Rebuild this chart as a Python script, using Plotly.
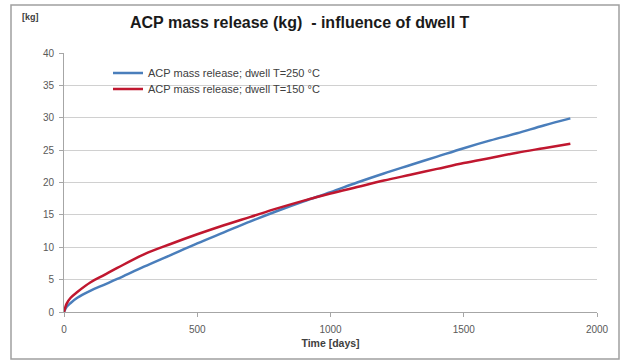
import plotly.graph_objects as go

days = [0, 10, 25, 50, 100, 150, 200, 300, 400, 500, 600, 700, 800, 900, 1000,
        1100, 1200, 1300, 1400, 1500, 1600, 1700, 1800, 1900]
release_250 = [0, 0.8, 1.4, 2.2, 3.3, 4.2, 5.1, 7.0, 8.8, 10.6, 12.3, 14.0, 15.6, 17.1, 18.5,
               20.0, 21.4, 22.7, 24.0, 25.3, 26.5, 27.6, 28.8, 29.9]
release_150 = [0, 1.3, 2.2, 3.1, 4.6, 5.7, 6.8, 8.9, 10.5, 12.0, 13.4, 14.7, 16.0, 17.2, 18.3,
               19.3, 20.3, 21.2, 22.1, 23.0, 23.8, 24.6, 25.3, 26.0]
name_250 = "ACP mass release; dwell T=250 °C"
name_150 = "ACP mass release; dwell T=150 °C"
x_ticks = [0, 500, 1000, 1500, 2000]
y_ticks = [0, 5, 10, 15, 20, 25, 30, 35, 40]

W, H = 622, 362
L, R, T, B = 64, 25, 53, 50
pw, ph = W - L - R, H - T - B

def px(x):
    return (x - L) / pw

def py(y):
    return (H - B - y) / ph

fig = go.Figure()
fig.add_trace(go.Scatter(x=days, y=release_250, mode="lines", name=name_250, legend="legend",
                         line=dict(color="#4A7EBB", width=2.5, shape="spline")))
fig.add_trace(go.Scatter(x=days, y=release_150, mode="lines", name=name_150, legend="legend2",
                         line=dict(color="#C0172F", width=2.5, shape="spline")))

font = "Liberation Sans"
leg_font = dict(size=11, color="#404040", family=font)
fig.update_layout(
    width=W, height=H,
    margin=dict(l=L, r=R, t=T, b=B),
    paper_bgcolor="white", plot_bgcolor="white",
    font=dict(family=font, size=10, color="#595959"),
    showlegend=True,
    legend=dict(x=px(108), y=py(73), xanchor="left", yanchor="middle",
                bgcolor="rgba(0,0,0,0)", font=leg_font),
    legend2=dict(x=px(108), y=py(89), xanchor="left", yanchor="middle",
                 bgcolor="rgba(0,0,0,0)", font=leg_font),
    xaxis=dict(range=[0, 2000], tickvals=x_ticks, showgrid=False, zeroline=False,
               showline=True, linecolor="#A6A6A6", linewidth=1,
               ticks="outside", ticklen=4, tickcolor="#A6A6A6", ticklabelstandoff=4,
               title=dict(text="<b>Time [days]</b>", font=dict(size=10.5, color="#404040"), standoff=5)),
    yaxis=dict(range=[0, 40], tickvals=y_ticks, showgrid=True, gridcolor="#D0D0D0",
               zeroline=False, showline=True, linecolor="#A6A6A6", linewidth=1,
               ticks="outside", ticklen=4, tickcolor="#A6A6A6", ticklabelstandoff=3),
    annotations=[
        dict(text="<b>ACP mass release (kg)  - influence of dwell T</b>",
             xref="paper", yref="paper", x=px(300), y=py(22), showarrow=False,
             xanchor="center", yanchor="middle",
             font=dict(size=16, color="#1A1A1A", family=font)),
        dict(text="<b>[kg]</b>", xref="paper", yref="paper", x=px(20), y=py(17),
             showarrow=False, xanchor="left", yanchor="middle",
             font=dict(size=9, color="#404040", family=font)),
    ],
    shapes=[dict(type="rect", xref="paper", yref="paper",
                 x0=px(11), x1=px(619), y0=py(359), y1=py(5),
                 line=dict(color="#A0A0A0", width=1.5), fillcolor="rgba(0,0,0,0)", layer="below")],
)

fig.write_html("out.html")
